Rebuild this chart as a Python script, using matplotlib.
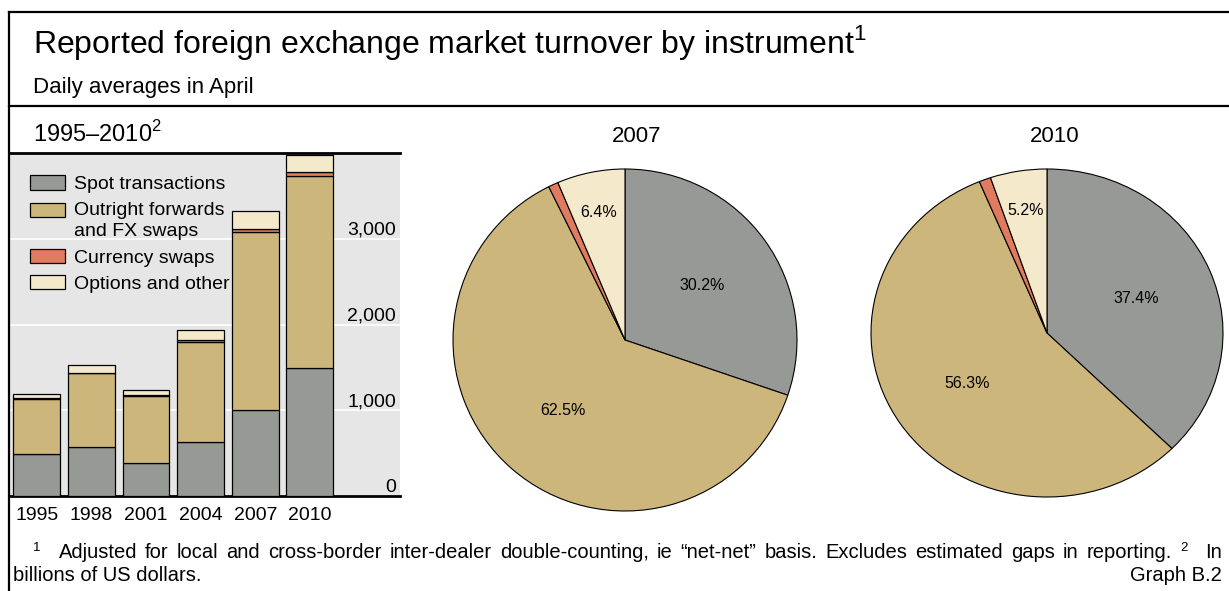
import matplotlib
matplotlib.use("Agg")
import matplotlib.pyplot as plt
from matplotlib.lines import Line2D
import numpy as np

plt.rcParams['font.family'] = ['Liberation Sans', 'DejaVu Sans']
plt.rcParams['mathtext.fontset'] = 'custom'
plt.rcParams['mathtext.rm'] = 'Liberation Sans'

### DATA (billions of US dollars, daily averages in April)
years = ['1995', '1998', '2001', '2004', '2007', '2010']
spot = [494, 568, 386, 631, 1005, 1490]
fwd_swaps = [643, 862, 786, 1163, 2076, 2240]
currency_swaps = [4, 10, 7, 21, 31, 43]
options_other = [49, 87, 60, 119, 212, 207]
series_names = ['Spot transactions', 'Outright forwards\nand FX swaps',
                'Currency swaps', 'Options and other']
colors = ['#979996', '#cdb67c', '#e07b5f', '#f4eacb']
yticks = [0, 1000, 2000, 3000]

W, H = 1229, 591
fig = plt.figure(figsize=(W / 100, H / 100), dpi=100)


def box(x0, y0, x1, y1):
    # pixel box (top-left origin) -> figure fraction rect
    return [x0 / W, 1 - y1 / H, (x1 - x0) / W, (y1 - y0) / H]


def fy(y):
    return 1 - y / H


# frame lines
fig.add_artist(Line2D([8.5 / W, 1], [fy(12), fy(12)], color='black', lw=1.6))
fig.add_artist(Line2D([8.5 / W, 8.5 / W], [0, fy(12)], color='black', lw=1.6))
fig.add_artist(Line2D([8.5 / W, 1], [fy(106), fy(106)], color='black', lw=1.6))

# titles
fig.text(33 / W, fy(53), 'Reported foreign exchange market turnover by instrument$^{1}$',
         fontsize=23, va='baseline')
fig.text(33 / W, fy(93), 'Daily averages in April', fontsize=16, va='baseline')
fig.text(33 / W, fy(142), '1995\u20132010$^{2}$', fontsize=17, va='baseline')
fig.text(637 / W, fy(142), '2007', fontsize=16, va='baseline', ha='center')
fig.text(1055 / W, fy(142), '2010', fontsize=16, va='baseline', ha='center')

### BAR CHART
ax = fig.add_axes(box(10, 153, 400, 496))
ax.set_facecolor('#e6e6e6')
x = np.arange(len(years))
bottom = np.zeros(len(years))
handles = []
for vals, name, c in zip([spot, fwd_swaps, currency_swaps, options_other], series_names, colors):
    b = ax.bar(x, vals, 0.86, bottom=bottom, color=c, edgecolor='black', linewidth=0.9,
               label=name, zorder=3)
    handles.append(b)
    bottom += np.array(vals)
ax.set_xlim(-0.49, 6.65)
ax.set_ylim(0, 4000)
ax.set_yticks(yticks)
ax.set_yticklabels(['0', '1,000', '2,000', '3,000'])
ax.yaxis.grid(True, color='white', lw=1.2, zorder=0)
ax.set_axisbelow(True)
ax.yaxis.tick_right()
ax.tick_params(axis='y', length=0, pad=-3, labelsize=14)
for lab in ax.get_yticklabels():
    lab.set_horizontalalignment('right')
    lab.set_verticalalignment('bottom')
ax.set_xticks(x)
ax.set_xticklabels(years)
ax.tick_params(axis='x', length=0, pad=8, labelsize=14)
for s in ['left', 'right']:
    ax.spines[s].set_visible(False)
for s in ['top', 'bottom']:
    ax.spines[s].set_linewidth(2)
leg = ax.legend(handles=handles, loc='upper left', bbox_to_anchor=(0.05, 0.935),
                frameon=False, fontsize=14, handlelength=1.8, handleheight=0.75,
                handletextpad=0.5, labelspacing=0.45, borderpad=0, borderaxespad=0)
for t in leg.get_texts():
    t.set_linespacing(1.3)
leg.set_zorder(2)
# two-line entry: handle sits beside the first line
hr = leg.legend_handles[1]
hr.set_y(hr.get_y() + 7.5)

### PIES
pie_specs = [('2007', (625, 340), 172, 171), ('2010', (1047, 333), 176, 164)]
for yr, (cx, cy), rx, ry in pie_specs:
    i = years.index(yr)
    vals = [spot[i], fwd_swaps[i], currency_swaps[i], options_other[i]]
    pax = fig.add_axes(box(cx - rx, cy - ry, cx + rx, cy + ry))
    wedges, _ = pax.pie(vals, colors=colors, startangle=90, counterclock=False,
                        wedgeprops=dict(edgecolor='black', linewidth=0.8))
    pax.set_aspect('auto')
    pax.set_xlim(-1, 1)
    pax.set_ylim(-1, 1)
    pax.axis('off')
    total = sum(vals)
    for k, (w, v) in enumerate(zip(wedges, vals)):
        if k == 2:
            continue
        ang = np.deg2rad((w.theta1 + w.theta2) / 2)
        d = 0.76 if k == 3 else 0.55
        pax.text(d * np.cos(ang), d * np.sin(ang), '%.1f%%' % (100 * v / total),
                 ha='center', va='center', fontsize=11.5)

### FOOTNOTES (first line justified)
fs = 14.5
fig.canvas.draw()
r = fig.canvas.get_renderer()
line1 = [('1', True), ('Adjusted', False)] + [(w, False) for w in
         'for local and cross-border inter-dealer double-counting, ie \u201cnet-net\u201d basis. Excludes estimated gaps in reporting.'.split()] \
        + [('2', True), ('In', False)]
texts = []
for w, sup in line1:
    t = fig.text(0, fy(558) + (7 / H if sup else 0), w, fontsize=9.5 if sup else fs, va='baseline')
    texts.append(t)
widths = [t.get_window_extent(r).width + (10 if sup else 0) for t, (w, sup) in zip(texts, line1)]
x0, x1 = 33, 1222
gap = (x1 - x0 - sum(widths)) / (len(texts) - 1)
xp = x0
for t, wd in zip(texts, widths):
    t.set_x(xp / W)
    xp += wd + gap
fig.text(13 / W, fy(581), 'billions of US dollars.', fontsize=fs, va='baseline')
fig.text(1222 / W, fy(581), 'Graph B.2', fontsize=fs, va='baseline', ha='right')

fig.savefig('out.png', dpi=100)
